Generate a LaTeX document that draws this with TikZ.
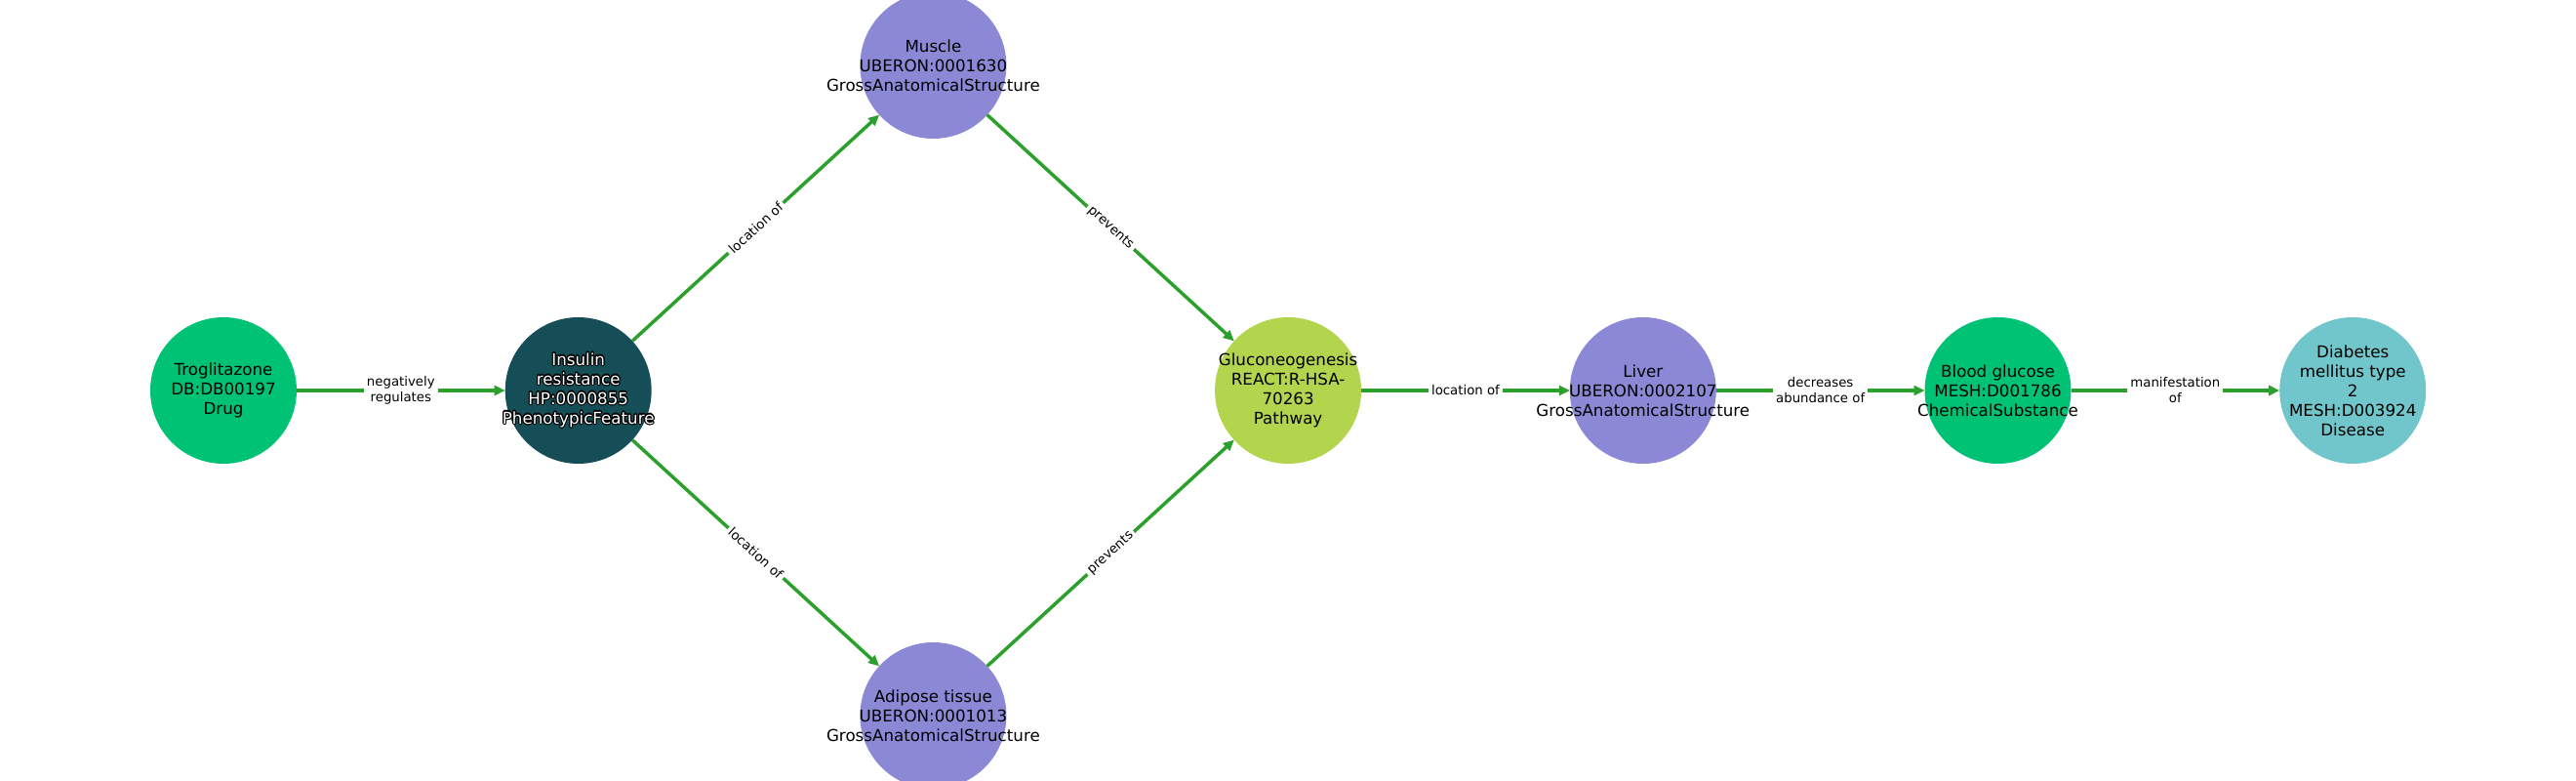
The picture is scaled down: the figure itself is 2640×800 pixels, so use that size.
\documentclass[tikz,border=0pt]{standalone}
\usepackage{fontspec}
\setmainfont{DejaVu Sans}
\usepackage{xcolor}
\usepackage{tikz}
\usepackage{contour}
\usetikzlibrary{positioning, arrows.meta}
\contourlength{1.1pt}
\definecolor{edgegreen}{HTML}{2CA02C}
\definecolor{drugcol}{HTML}{00C274}
\definecolor{phenocol}{HTML}{154E56}
\definecolor{anatcol}{HTML}{8B88D6}
\definecolor{pathcol}{HTML}{B3D44D}
\definecolor{diseasecol}{HTML}{70C6CA}
\newcommand{\entfont}{\fontsize{16.7}{20}\selectfont}
\newcommand{\relfont}{\fontsize{13.3}{16}\selectfont}
\tikzset{->,
         >={Triangle[length=11pt,width=10pt]},
         node distance=363.7pt,
         on grid,
         entity/.style={circle, minimum size=150pt, inner sep=0pt, outer sep=0pt},
         enttext/.style={font=\entfont, align=center, inner sep=0pt},
         rel/.style={font=\relfont, align=center, fill=white, inner sep=3pt},
         every edge/.style={draw=edgegreen, line width=3.5pt},
         }

\begin{document}
\begin{tikzpicture}
    \useasboundingbox (0,0) rectangle (2640pt,800pt);
    \node[entity, fill=drugcol] (trog) at (229pt,400pt) {};
    \node[entity, fill=phenocol, right=of trog] (insres) {};
    \node[entity, fill=anatcol, above right=333pt and 363.7pt of insres] (muscle) {};
    \node[entity, fill=anatcol, below right=333pt and 363.7pt of insres] (adipose) {};
    \node[entity, fill=pathcol, below right=333pt and 363.7pt of muscle] (gluco) {};
    \node[entity, fill=anatcol, right=of gluco] (liver) {};
    \node[entity, fill=drugcol, right=of liver] (bglu) {};
    \node[entity, fill=diseasecol, right=of bglu] (t2dm) {};

    \draw   (trog) edge node[rel]{negatively\\regulates} (insres)
            (insres) edge node[rel, sloped]{location of} (muscle)
            (insres) edge node[rel, sloped]{location of} (adipose)
            (muscle) edge node[rel, sloped]{prevents} (gluco)
            (adipose) edge node[rel, sloped]{prevents} (gluco)
            (gluco) edge node[rel]{location of} (liver)
            (liver) edge node[rel]{decreases\\abundance of} (bglu)
            (bglu) edge node[rel]{manifestation\\of} (t2dm);

    \node[enttext] (trogtxt) at (trog) {Troglitazone\\DB:DB00197\\Drug};
    \node[enttext, text=white] (insrestxt) at (insres) {\contour{black}{Insulin}\\\contour{black}{resistance}\\\contour{black}{HP:0000855}\\\contour{black}{PhenotypicFeature}};
    \node[enttext] (muscletxt) at (muscle) {Muscle\\UBERON:0001630\\GrossAnatomicalStructure};
    \node[enttext] (adiposetxt) at (adipose) {Adipose tissue\\UBERON:0001013\\GrossAnatomicalStructure};
    \node[enttext] (glucotxt) at (gluco) {Gluconeogenesis\\REACT:R-HSA-\\70263\\Pathway};
    \node[enttext] (livertxt) at (liver) {Liver\\UBERON:0002107\\GrossAnatomicalStructure};
    \node[enttext] (bglutxt) at (bglu) {Blood glucose\\MESH:D001786\\ChemicalSubstance};
    \node[enttext] (t2dmtxt) at (t2dm) {Diabetes\\mellitus type\\2\\MESH:D003924\\Disease};
\end{tikzpicture}
\end{document}
